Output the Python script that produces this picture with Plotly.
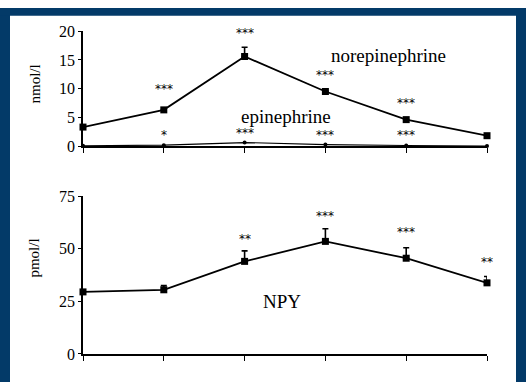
import plotly.graph_objects as go

W, H = 526, 391

# ---- data ----
time_points = [0, 1, 2, 3, 4, 5]
norepinephrine = [3.3, 6.3, 15.6, 9.5, 4.6, 1.8]
norepinephrine_err = [0.0, 0.0, 1.6, 0.0, 0.0, 0.0]
epinephrine = [0.05, 0.15, 0.6, 0.25, 0.1, 0.0]
npy = [29.5, 30.5, 44.0, 53.5, 45.5, 33.8]
npy_err = [0.8, 2.0, 5.0, 6.0, 5.0, 3.0]

ne_stars = ["", "***", "***", "***", "***", ""]
epi_stars = ["", "*", "***", "***", "***", ""]
npy_stars = ["", "", "**", "***", "***", "**"]

top_ticks = [0, 5, 10, 15, 20]
bottom_ticks = [0, 25, 50, 75]

FONT = "Liberation Serif"
STAR_FONT = dict(family="DejaVu Sans", size=12, color="#000000")

def px_x(p):
    return p / W

def px_y(p):
    return 1 - p / H

fig = go.Figure()

fig.add_trace(go.Scatter(
    x=time_points, y=epinephrine, mode="lines+markers",
    line=dict(color="black", width=1.1),
    marker=dict(symbol="circle", size=4, color="black"),
    xaxis="x", yaxis="y", cliponaxis=False, showlegend=False))

fig.add_trace(go.Scatter(
    x=time_points, y=norepinephrine, mode="lines+markers",
    line=dict(color="black", width=1.8),
    marker=dict(symbol="square", size=7, color="black"),
    error_y=dict(type="data", symmetric=False, array=norepinephrine_err,
                 arrayminus=[0] * len(norepinephrine_err),
                 color="black", thickness=1.6, width=3),
    xaxis="x", yaxis="y", cliponaxis=False, showlegend=False))

fig.add_trace(go.Scatter(
    x=time_points, y=npy, mode="lines+markers",
    line=dict(color="black", width=1.8),
    marker=dict(symbol="square", size=7, color="black"),
    error_y=dict(type="data", symmetric=False, array=npy_err,
                 arrayminus=[0] * len(npy_err),
                 color="black", thickness=1.6, width=3),
    xaxis="x2", yaxis="y2", cliponaxis=False, showlegend=False))

def star(xi, yv, xr, yr, s, sh):
    return dict(x=xi, y=yv, xref=xr, yref=yr, text=s, showarrow=False,
                xanchor="center", yanchor="middle", yshift=sh, textangle=0.01,
                font=STAR_FONT)

ann = []
ne_shift = [0, 21, 14, 17, 17, 0]
for xi, v, e, s, sh in zip(time_points, norepinephrine, norepinephrine_err, ne_stars, ne_shift):
    if s:
        ann.append(star(xi, v + e, "x", "y", s, sh))
for xi, v, s in zip(time_points, epinephrine, epi_stars):
    if s:
        ann.append(star(xi, v, "x", "y", s, 10))
npy_shift = [0, 0, 12, 12.5, 15.5, 15]
for xi, v, e, s, sh in zip(time_points, npy, npy_err, npy_stars, npy_shift):
    if s:
        ann.append(star(xi, v + e, "x2", "y2", s, sh))

lab_font = dict(family=FONT, size=19, color="black")
def label(x, y, text, font, angle=0):
    return dict(x=px_x(x), y=px_y(y), xref="paper", yref="paper", text=text,
                textangle=angle, xanchor="center", yanchor="middle",
                showarrow=False, font=font)

ann += [
    label(388, 49.5, "norepinephrine", lab_font),
    label(285.5, 113, "epinephrine", lab_font),
    label(282, 306.5, "NPY", lab_font),
    label(35, 80, "nmol/l", dict(family=FONT, size=15, color="black"), -90),
    label(34, 262, "pmol/l", dict(family=FONT, size=15, color="black"), -90),
]

blue = "#033a68"
shapes = [
    dict(type="rect", xref="paper", yref="paper", x0=0, x1=px_x(10), y0=0, y1=1,
         fillcolor=blue, line=dict(width=0), layer="above"),
    dict(type="rect", xref="paper", yref="paper", x0=0, x1=1, y0=px_y(8), y1=1,
         fillcolor=blue, line=dict(width=0), layer="above"),
    dict(type="rect", xref="paper", yref="paper", x0=px_x(516), x1=1, y0=0, y1=1,
         fillcolor=blue, line=dict(width=0), layer="above"),
]

axis_lines = dict(showgrid=False, zeroline=False, showline=True, linecolor="black",
                  linewidth=1.8, ticks="outside", tickcolor="black", tickwidth=1.4)
tick_font = dict(family=FONT, size=16, color="black")

fig.update_layout(
    width=W, height=H,
    margin=dict(l=0, r=0, t=0, b=0),
    paper_bgcolor="white", plot_bgcolor="white",
    xaxis=dict(domain=[px_x(83), px_x(487)], range=[0, 5], tickvals=time_points,
               showticklabels=False, ticklen=5, anchor="y", **axis_lines),
    yaxis=dict(domain=[px_y(144.3), px_y(24.3)], range=[0, 20], tickvals=top_ticks,
               ticklen=3, anchor="x", tickfont=tick_font, **axis_lines),
    xaxis2=dict(domain=[px_x(83), px_x(487)], range=[0, 5], tickvals=time_points,
                showticklabels=False, ticklen=5, anchor="y2", **axis_lines),
    yaxis2=dict(domain=[px_y(361.7), px_y(196.7)], range=[0, 75], tickvals=bottom_ticks,
                ticklen=3, anchor="x2", tickfont=tick_font, **axis_lines),
    annotations=ann,
    shapes=shapes,
)

fig.write_html("out.html")
